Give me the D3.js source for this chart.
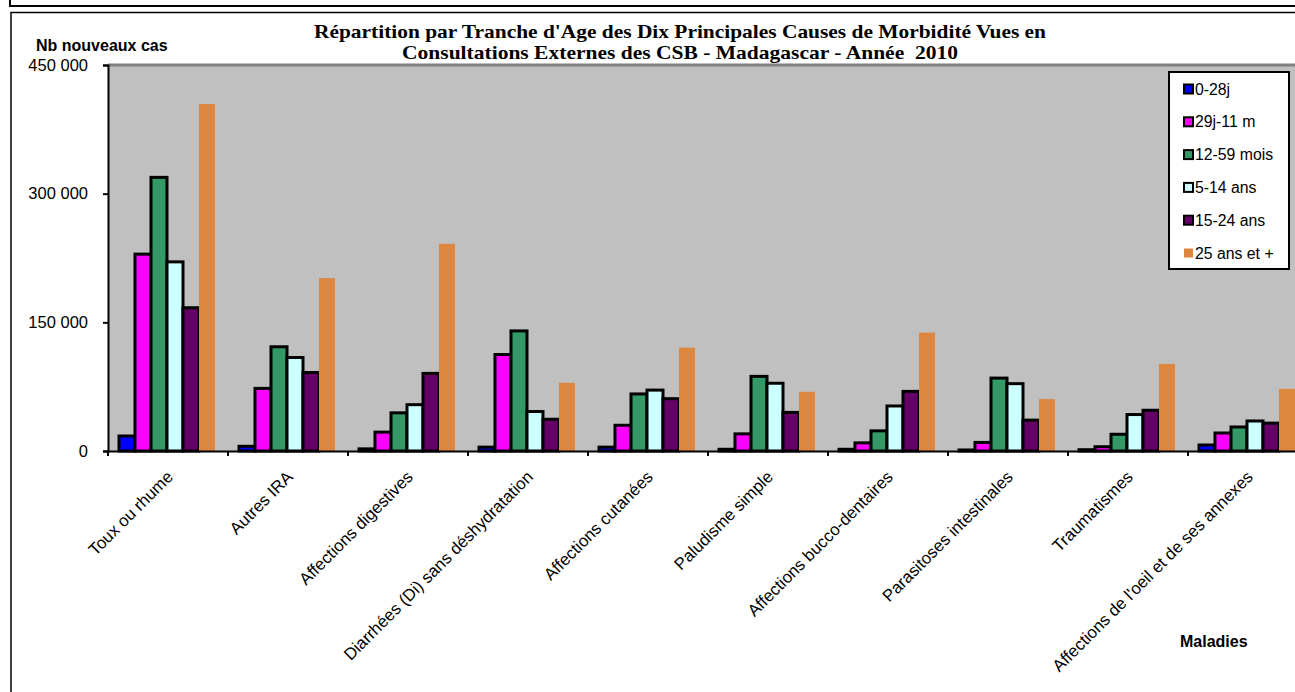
<!DOCTYPE html>
<html><head><meta charset="utf-8">
<script src="https://cdn.jsdelivr.net/npm/d3@7"></script>
<style>body{margin:0;background:#fff}svg{display:block}text{white-space:pre}</style>
</head><body>
<svg id="c" width="1295" height="692"></svg>
<script>
const categories = ["Toux ou rhume","Autres IRA","Affections digestives","Diarrhées (Di) sans déshydratation","Affections cutanées","Paludisme simple","Affections bucco-dentaires","Parasitoses intestinales","Traumatismes","Affections de l'oeil et de ses annexes"];
const seriesNames = ["0-28j","29j-11 m","12-59 mois","5-14 ans","15-24 ans","25 ans et +"];
const v0_28j   = [17500, 5500, 2500, 4500, 4500, 2000, 2000, 1200, 1500, 7000];
const v29j_11m = [229500, 73000, 22000, 112500, 30000, 20000, 9500, 10000, 5000, 21000];
const v12_59m  = [319000, 121500, 44500, 140000, 66500, 87000, 23500, 85000, 19500, 28000];
const v5_14    = [220500, 109000, 54000, 46000, 71000, 79000, 52500, 78500, 42500, 35000];
const v15_24   = [167000, 91500, 90500, 37000, 61000, 45000, 69500, 36000, 47500, 32500];
const v25plus  = [404500, 201500, 241500, 79500, 120500, 69000, 138000, 60500, 101500, 72500];
const seriesValues = [v0_28j, v29j_11m, v12_59m, v5_14, v15_24, v25plus];
const colors = ["#0000FF","#FF00FF","#339966","#CCFFFF","#660066","#DD8640"];
const yTicks = [0, 150000, 300000, 450000];
const yTitle = "Nb nouveaux cas";
const xTitle = "Maladies";
const titleLines = ["Répartition par Tranche d'Age des Dix Principales Causes de Morbidité Vues en","Consultations Externes des CSB - Madagascar - Année  2010"];

(function(){
const svg = d3.select("#c");
const sans = "'Liberation Sans', Arial, sans-serif";
const serif = "'Liberation Serif', 'Times New Roman', serif";

// frames
svg.append("rect").attr("x",10).attr("y",-20).attr("width",1300).attr("height",26).attr("fill","none").attr("stroke","#000").attr("stroke-width",2);
svg.append("rect").attr("x",11).attr("y",12.5).attr("width",1300).attr("height",700).attr("fill","none").attr("stroke","#000").attr("stroke-width",1.5);

const pL = 108, pR = 1308, pT = 65, pB = 451;
const x0 = d3.scaleBand().domain(categories).range([pL, pR]).padding(0);
const x1 = d3.scaleBand().domain(seriesNames).range([11, 107]).padding(0);
const y = d3.scaleLinear().domain([0, 450000]).range([pB, pT]);

svg.append("rect").attr("x",pL).attr("y",pT).attr("width",pR-pL).attr("height",pB-pT).attr("fill","#C0C0C0");
svg.append("line").attr("x1",pL).attr("x2",pR).attr("y1",pT).attr("y2",pT).attr("stroke","#808080").attr("stroke-width",3);

// bars
seriesNames.forEach((s, si) => {
  svg.append("g").selectAll("rect").data(categories).join("rect")
    .attr("x", c => x0(c) + x1(s))
    .attr("y", (c, i) => y(seriesValues[si][i]))
    .attr("width", x1.bandwidth())
    .attr("height", (c, i) => y(0) - y(seriesValues[si][i]))
    .attr("fill", colors[si])
    .attr("stroke", si < 5 ? "#000" : "none")
    .attr("stroke-width", 3);
});

// axes
const fmt = d3.formatLocale({decimal:",", thousands:" ", grouping:[3], currency:["",""]}).format(",d");
const ya = svg.append("g").attr("transform",`translate(${pL},0)`)
  .call(d3.axisLeft(y).tickValues(yTicks).tickSize(5).tickPadding(15).tickFormat(fmt));
ya.select(".domain").attr("stroke","#000").attr("stroke-width",2);
ya.selectAll(".tick line").attr("stroke","#000").attr("stroke-width",2);
ya.selectAll("text").attr("font-family",sans).attr("font-size",16.5).attr("fill","#000");

const xa = svg.append("g").attr("transform",`translate(0,${pB})`)
  .call(d3.axisBottom(x0).tickSize(0).tickFormat(""));
xa.select(".domain").attr("stroke","#000").attr("stroke-width",2);
xa.selectAll(".tick").remove();
svg.append("g").selectAll("line").data(categories.concat(["_end"])).join("line")
  .attr("x1",(c,i)=>pL + i*x0.step()).attr("x2",(c,i)=>pL + i*x0.step())
  .attr("y1",pB).attr("y2",pB+5).attr("stroke","#000").attr("stroke-width",2);

svg.append("g").selectAll("text").data(categories).join("text")
  .attr("transform", c => `translate(${x0(c)+x0.bandwidth()/2+6},${pB+27}) rotate(-45)`)
  .attr("text-anchor","end")
  .attr("font-family",sans).attr("font-size",16.8).attr("fill","#000")
  .text(c => c);

// axis titles
svg.append("text").attr("x",36).attr("y",51).attr("font-family",sans).attr("font-size",16).attr("font-weight","bold").text(yTitle);
svg.append("text").attr("x",1180).attr("y",647).attr("font-family",sans).attr("font-size",16).attr("font-weight","bold").text(xTitle);

// title
const tl = [{t:titleLines[0], y:38, w:732},{t:titleLines[1], y:59, w:556}];
tl.forEach(d => {
  svg.append("text").attr("x",680).attr("y",d.y).attr("text-anchor","middle")
    .attr("font-family",serif).attr("font-weight","bold").attr("font-size",19)
    .attr("textLength",d.w).attr("lengthAdjust","spacingAndGlyphs").text(d.t);
});

// legend
const lg = svg.append("g");
lg.append("rect").attr("x",1169).attr("y",72).attr("width",120).attr("height",197).attr("fill","#fff").attr("stroke","#000").attr("stroke-width",2);
const ly = d3.scalePoint().domain(seriesNames).range([89, 253]);
seriesNames.forEach((s, i) => {
  lg.append("rect").attr("x",1184).attr("y",ly(s)-4.5).attr("width",9).attr("height",9)
    .attr("fill",colors[i]).attr("stroke", i<5 ? "#000":"none").attr("stroke-width",2);
  lg.append("text").attr("x",1195).attr("y",ly(s)+5.5).attr("font-family",sans).attr("font-size",15.8).text(s);
});
})();
</script>
</body></html>
